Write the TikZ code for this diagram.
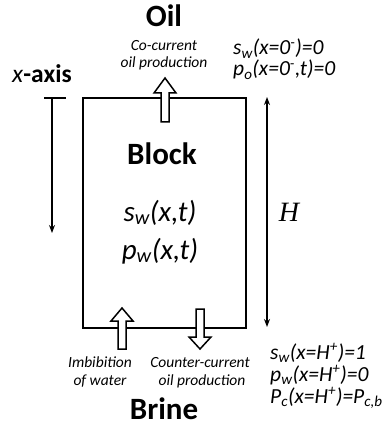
\documentclass[tikz,border=0pt]{standalone}
\usepackage{fontspec}
\setmainfont{Carlito}
\newfontfamily\serifH{Liberation Serif}
\usetikzlibrary{arrows.meta}

\begin{document}
\begin{tikzpicture}[x=1pt,y=-1pt,
  >={Stealth[length=8pt,width=6pt]},
  every node/.style={inner sep=0pt},
  bigword/.style={font=\fontsize{31}{33}\selectfont\bfseries,anchor=base},
  note/.style={font=\fontsize{15.5}{17}\selectfont\itshape,anchor=base},
  eqn/.style={font=\fontsize{21.5}{23}\selectfont\itshape,anchor=base west},
  inner/.style={font=\fontsize{29}{31}\selectfont\itshape,anchor=base},
  hollow/.style={draw,fill=white,line width=1.5pt,line join=miter},
  thick line/.style={line width=1.6pt}]
\path[use as bounding box] (0,0) rectangle (389,427);
% block
\draw[thick line] (83,98) rectangle (246,328);
% hollow arrows
\draw[hollow] (161,122) -- (161,93) -- (154,93) -- (165,78) -- (176,93) -- (169,93) -- (169,122) -- cycle;
\draw[hollow] (118,349) -- (118,321) -- (111,321) -- (122,308) -- (133,321) -- (126,321) -- (126,349) -- cycle;
\draw[hollow] (196,309) -- (196,337) -- (189,337) -- (200,349) -- (211,337) -- (204,337) -- (204,309) -- cycle;
% x-axis
\coordinate (xtop) at (52,98);
\coordinate (xend) at (52,233);
\draw[thick line] (44,98) -- (66,98);
\draw[thick line,->] (xtop) -- (xend);
\node[anchor=base west,font=\fontsize{25.5}{27}\selectfont] (xaxis) at (12,83) {\textit{x}\textbf{-axis}};
% height
\coordinate (htop) at (267,97);
\coordinate (hbot) at (267,327);
\draw[thick line,<->] (htop) -- (hbot);
\node[font=\fontsize{28}{30}\selectfont\serifH\itshape] (hlabel) at (289,212) {H};
% labels
\node[bigword] (oil) at (164,27) {Oil};
\node[note] (cocur1) at (164,51) {Co-current};
\node[note] (cocur2) at (164,68) {oil production};
\node[eqn] (top1) at (233,55) {s\textsubscript{w}(x=0\textsuperscript{-})=0};
\node[eqn] (top2) at (233,76) {p\textsubscript{o}(x=0\textsuperscript{-},t)=0};
\node[bigword] (block) at (162,165) {Block};
\node[inner] (sw) at (160,221) {s\textsubscript{w}(x,t)};
\node[inner] (pw) at (160,259) {p\textsubscript{w}(x,t)};
\node[note] (imb1) at (100,367) {Imbibition};
\node[note] (imb2) at (100,385) {of water};
\node[note] (cc1) at (200,367) {Counter-current};
\node[note] (cc2) at (202,385) {oil production};
\node[bigword] (brine) at (164,419) {Brine};
\node[eqn] (bot1) at (270,359) {s\textsubscript{w}(x=H\textsuperscript{+})=1};
\node[eqn] (bot2) at (270,381) {p\textsubscript{w}(x=H\textsuperscript{+})=0};
\node[eqn] (bot3) at (270,403) {P\textsubscript{c}(x=H\textsuperscript{+})=P\textsubscript{c,b}};
\end{tikzpicture}
\end{document}
